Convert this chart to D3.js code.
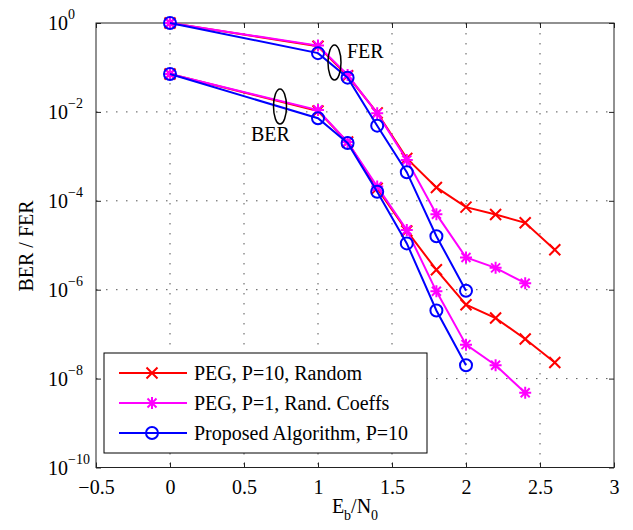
<!DOCTYPE html>
<html>
<head>
<meta charset="utf-8">
<script src="https://cdn.jsdelivr.net/npm/d3@7"></script>
<style>
  body { margin: 0; background: #fff; }
</style>
</head>
<body>
<div id="vis"></div>
<script>
// Eb/N0 points (dB)
var ebn0 = [0, 1, 1.2, 1.4, 1.6, 1.8, 2.0, 2.2, 2.4, 2.6];

// PEG, P=10, Random
var redFER = [1.0, 0.30, 0.065, 0.0095, 9e-4, 2.0e-4, 7.2e-5, 4.9e-5, 3.2e-5, 7.9e-6];
var redBER = [0.071, 0.0105, 0.0021, 1.9e-4, 2.1e-5, 2.8e-6, 4.6e-7, 2.3e-7, 7.8e-8, 2.3e-8];

// PEG, P=1, Rand. Coeffs (up to 2.4)
var magFER = [1.0, 0.31, 0.068, 0.0093, 8.3e-4, 5e-5, 5.3e-6, 3.1e-6, 1.4e-6];
var magBER = [0.071, 0.011, 0.0021, 2.1e-4, 2.2e-5, 9.2e-7, 5.8e-8, 2.0e-8, 4.8e-9];

// Proposed Algorithm, P=10 (up to 2.0)
var bluFER = [1.0, 0.21, 0.059, 0.0049, 4.4e-4, 1.6e-5, 9.5e-7];
var bluBER = [0.071, 0.0072, 0.0020, 1.6e-4, 1.1e-5, 3.4e-7, 2.0e-8];

var xTicks = [-0.5, 0, 0.5, 1, 1.5, 2, 2.5, 3];
var yExps = [0, -2, -4, -6, -8, -10];
var legendNames = ["PEG, P=10, Random", "PEG, P=1, Rand. Coeffs", "Proposed Algorithm, P=10"];

var FONT = "'Liberation Serif', 'Times New Roman', Times, serif";

var width = 633, height = 530;
var margin = {top: 23, right: 19, bottom: 62.5, left: 96};
var gw = width - margin.left - margin.right,
    gh = height - margin.top - margin.bottom;

var svg = d3.select("#vis").append("svg")
  .attr("width", width).attr("height", height)
  .style("font-family", FONT);

var x = d3.scaleLinear().domain([-0.5, 3]).range([0, gw]);
var y = d3.scaleLog().domain([1e-10, 1]).range([gh, 0]);

var graph = svg.append("g")
  .attr("transform", "translate(" + margin.left + "," + margin.top + ")");

// dotted grid
graph.selectAll(".vgrid").data(xTicks.slice(1, -1)).enter().append("line")
  .attr("x1", function(d) { return x(d); }).attr("x2", function(d) { return x(d); })
  .attr("y1", 0).attr("y2", gh)
  .attr("stroke", "#555").attr("stroke-width", 1).attr("stroke-dasharray", "1.5,8.5");
graph.selectAll(".hgrid").data(yExps.slice(1, -1)).enter().append("line")
  .attr("x1", 0).attr("x2", gw)
  .attr("y1", function(d) { return y(Math.pow(10, d)); }).attr("y2", function(d) { return y(Math.pow(10, d)); })
  .attr("stroke", "#555").attr("stroke-width", 1).attr("stroke-dasharray", "1.5,8.5");

// axes with inward ticks
var tickVals = yExps.map(function(e) { return Math.pow(10, e); });
graph.append("g").attr("transform", "translate(0," + gh + ")")
  .call(d3.axisBottom(x).tickValues(xTicks).tickSize(-5).tickPadding(12)
    .tickFormat(function(d) { return d < 0 ? "\u2212" + Math.abs(d) : d; }))
  .call(function(g) {
    g.select(".domain").remove();
    g.attr("font-family", FONT).attr("font-size", 20);
    g.selectAll("text").attr("fill", "#000");
  });
graph.append("g")
  .call(d3.axisTop(x).tickValues(xTicks).tickSize(-5).tickFormat(""))
  .call(function(g) { g.select(".domain").remove(); });
graph.append("g")
  .call(d3.axisLeft(y).tickValues(tickVals).tickSize(-5).tickFormat(""))
  .call(function(g) { g.select(".domain").remove(); });
graph.append("g").attr("transform", "translate(" + gw + ",0)")
  .call(d3.axisRight(y).tickValues(tickVals).tickSize(-5).tickFormat(""))
  .call(function(g) { g.select(".domain").remove(); });
graph.selectAll(".tick line").attr("stroke", "#222");

// y tick labels 10^e
var yl = graph.selectAll(".ylab").data(yExps).enter().append("text")
  .attr("x", -48)
  .attr("y", function(d) { return y(Math.pow(10, d)) + 7; })
  .attr("font-family", FONT).attr("font-size", 20);
yl.append("tspan").text("10");
yl.append("tspan").attr("dy", -11).attr("font-size", 14)
  .text(function(d) { return d < 0 ? "\u2212" + Math.abs(d) : "" + d; });

// frame
graph.append("rect").attr("width", gw).attr("height", gh)
  .attr("fill", "none").attr("stroke", "#222").attr("stroke-width", 1);

// axis labels
var xl = svg.append("text").attr("x", margin.left + gw / 2).attr("y", 513)
  .attr("text-anchor", "middle").attr("font-family", FONT).attr("font-size", 20);
xl.append("tspan").text("E");
xl.append("tspan").attr("dy", 7).attr("font-size", 14).text("b");
xl.append("tspan").attr("dy", -7).text("/N");
xl.append("tspan").attr("dy", 7).attr("font-size", 14).text("0");

svg.append("text").attr("transform", "translate(33,246) rotate(-90)")
  .attr("text-anchor", "middle").attr("font-family", FONT).attr("font-size", 20).text("BER / FER");

// markers
function drawMarker(sel, type, color) {
  if (type === "x") {
    sel.append("path").attr("d", "M-5.5,-5.5L5.5,5.5M-5.5,5.5L5.5,-5.5")
      .attr("stroke", color).attr("stroke-width", 2).attr("fill", "none");
  } else if (type === "*") {
    sel.append("path").attr("d", "M-6,0L6,0M0,-6L0,6M-4.5,-4.5L4.5,4.5M-4.5,4.5L4.5,-4.5")
      .attr("stroke", color).attr("stroke-width", 2).attr("fill", "none");
  } else {
    sel.append("circle").attr("r", 6)
      .attr("stroke", color).attr("stroke-width", 2).attr("fill", "none");
  }
}

var series = [
  {color: "#ff0000", marker: "x", curves: [redFER, redBER]},
  {color: "#ff00ff", marker: "*", curves: [magFER, magBER]},
  {color: "#0000ff", marker: "o", curves: [bluFER, bluBER]}
];

var line = d3.line()
  .x(function(d) { return x(d[0]); })
  .y(function(d) { return y(d[1]); });

series.forEach(function(s) {
  s.curves.forEach(function(vals) {
    var pts = vals.map(function(v, i) { return [ebn0[i], v]; });
    graph.append("path").datum(pts).attr("d", line)
      .attr("fill", "none").attr("stroke", s.color).attr("stroke-width", 2);
    graph.selectAll(null).data(pts).enter().append("g")
      .attr("transform", function(d) { return "translate(" + x(d[0]) + "," + y(d[1]) + ")"; })
      .each(function() { drawMarker(d3.select(this), s.marker, s.color); });
  });
});

// curve group annotations
svg.append("ellipse").attr("cx", 334.5).attr("cy", 62.5).attr("rx", 6.5).attr("ry", 17.5)
  .attr("fill", "none").attr("stroke", "#000").attr("stroke-width", 1.5);
svg.append("text").attr("x", 347).attr("y", 57.5).attr("font-family", FONT).attr("font-size", 20).text("FER");
svg.append("ellipse").attr("cx", 280).attr("cy", 106.5).attr("rx", 6.5).attr("ry", 17.5)
  .attr("fill", "none").attr("stroke", "#000").attr("stroke-width", 1.5);
svg.append("text").attr("x", 251).attr("y", 140.5).attr("font-family", FONT).attr("font-size", 20).text("BER");

// legend
var legend = svg.append("g");
legend.append("rect").attr("x", 104).attr("y", 353).attr("width", 323).attr("height", 100)
  .attr("fill", "#fff").attr("stroke", "#000").attr("stroke-width", 1);
series.forEach(function(s, i) {
  var ly = 373 + i * 30;
  legend.append("line").attr("x1", 119).attr("x2", 187).attr("y1", ly).attr("y2", ly)
    .attr("stroke", s.color).attr("stroke-width", 2);
  var m = legend.append("g").attr("transform", "translate(152," + ly + ")");
  drawMarker(m, s.marker, s.color);
  legend.append("text").attr("x", 194).attr("y", ly + 7)
    .attr("font-family", FONT).attr("font-size", 20).text(legendNames[i]);
});
</script>
</body>
</html>
